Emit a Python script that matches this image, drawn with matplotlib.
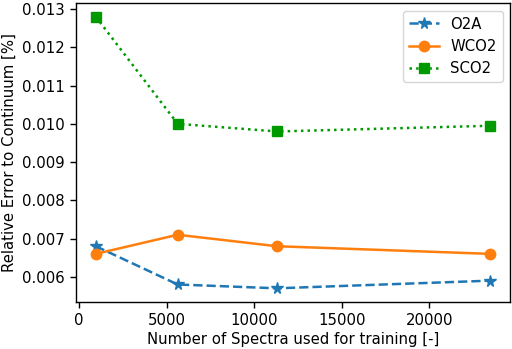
import matplotlib
matplotlib.use("Agg")
import matplotlib.pyplot as plt

n_spectra = [950, 5630, 11300, 23500]
o2a = [0.0068, 0.0058, 0.0057, 0.0059]
wco2 = [0.0066, 0.0071, 0.0068, 0.0066]
sco2 = [0.0128, 0.0100, 0.0098, 0.00995]

fs = 10.7
fig = plt.figure(figsize=(5.12, 3.49), dpi=100)
ax = fig.add_axes([0.1485, 0.135, 0.848, 0.856])

ax.plot(n_spectra, o2a, linestyle='--', marker='*', color='#1f77b4', label='O2A',
        markersize=8.5, linewidth=1.8)
ax.plot(n_spectra, wco2, linestyle='-', marker='o', color='#ff7f0e', label='WCO2',
        markersize=7.5, linewidth=1.8)
ax.plot(n_spectra, sco2, linestyle=':', marker='s', color='#009a00', label='SCO2',
        markersize=7, linewidth=1.8)

ax.set_xlabel('Number of Spectra used for training [-]', fontsize=fs, labelpad=3)
ax.set_ylabel('Relative Error to Continuum [%]', fontsize=fs)
ax.set_xticks([0, 5000, 10000, 15000, 20000])
ax.set_yticks([0.006, 0.007, 0.008, 0.009, 0.010, 0.011, 0.012, 0.013])
ax.tick_params(labelsize=fs, width=1.0, length=4.5)
for s in ax.spines.values():
    s.set_linewidth(1.0)
ax.legend(loc='upper right', fontsize=fs)

fig.savefig('out.png', dpi=100)
